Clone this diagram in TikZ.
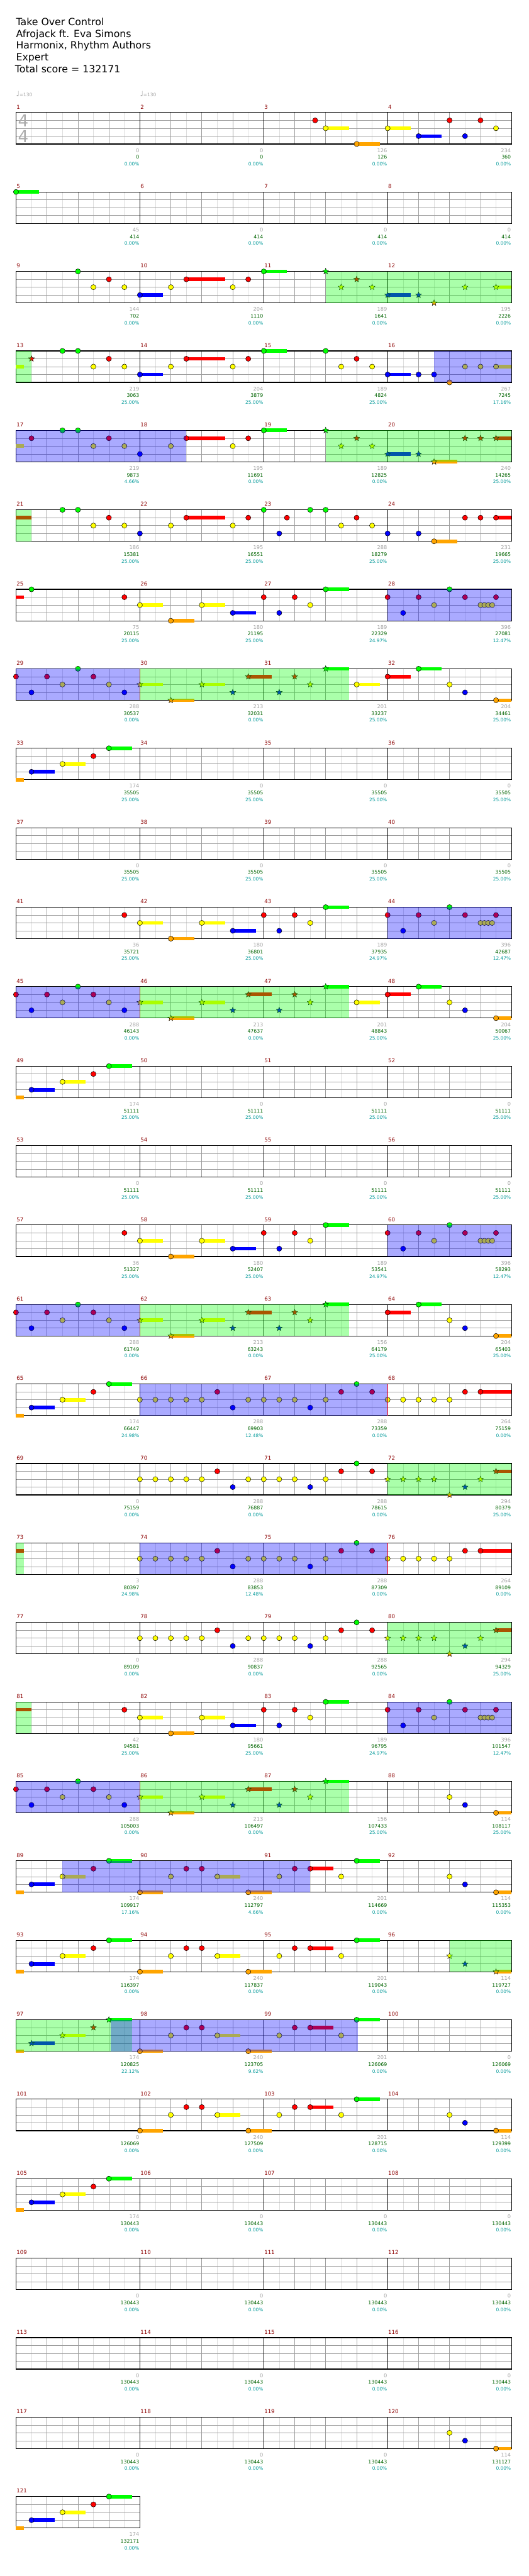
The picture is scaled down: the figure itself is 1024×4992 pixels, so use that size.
\documentclass[tikz,border=0pt]{standalone}
\usepackage{fontspec}
\setmainfont{DejaVu Sans}
\usetikzlibrary{shapes.geometric}

\definecolor{cG}{RGB}{0,255,0}
\definecolor{cR}{RGB}{255,0,0}
\definecolor{cY}{RGB}{255,255,0}
\definecolor{cB}{RGB}{0,0,255}
\definecolor{cO}{RGB}{255,165,0}
\definecolor{measred}{RGB}{140,0,0}
\definecolor{cntgray}{RGB}{160,160,160}
\definecolor{sumgreen}{RGB}{0,100,0}
\definecolor{pctteal}{RGB}{0,153,153}

% lane index of each fret colour
\def\lG{0}\def\lR{1}\def\lY{2}\def\lB{3}\def\lO{4}

\tikzset{
  eighth/.style={draw=black!13, line width=0.6pt},
  beat/.style={draw=black!38, line width=0.8pt},
  lane/.style={draw=black!38, line width=0.8pt},
  bar/.style={draw=black, line width=0.8pt},
  frame/.style={draw=black, line width=1.4pt},
  gem/.style={draw=black, line width=0.6pt},
  spnote/.style={star, star points=5, star point ratio=2.3, minimum size=12pt,
    inner sep=0pt, draw=black, line width=0.5pt},
  spgreen/.style={fill=cG, fill opacity=0.333},
  spblue/.style={fill=cB, fill opacity=0.333},
  spedge/.style={draw=cR, line width=0.6pt},
  title/.style={font=\fontsize{19.2}{23}\selectfont, inner sep=0pt},
  measnum/.style={text=measred, font=\fontsize{10.5}{12}\selectfont, inner sep=0pt},
  notecnt/.style={text=cntgray, font=\fontsize{10}{12}\selectfont, inner sep=0pt},
  scoresum/.style={text=sumgreen, font=\fontsize{9.5}{12}\selectfont, inner sep=0pt},
  pct/.style={text=pctteal, font=\fontsize{9}{12}\selectfont, inner sep=0pt},
  tsig/.style={text=black!33, font=\fontsize{32}{32}\selectfont, inner sep=0pt},
  tempo/.style={text=cntgray, inner sep=0pt}
}

% row, beat, lane
\newcommand{\gemnote}[3]{\filldraw[gem, fill=c#3] ({31+60*(#2)},{218+154*(#1)+15.25*\csname l#3\endcsname}) circle[radius=5pt];}
\newcommand{\stargem}[3]{\node[spnote, fill=c#3] at ({31+60*(#2)},{218+154*(#1)+15.25*\csname l#3\endcsname}) {};}
% row, from, to, lane
\newcommand{\holdbar}[4]{\fill[c#4] ({31+60*(#2)},{214.5+154*(#1)+15.25*\csname l#4\endcsname}) rectangle ({31+60*(#3)},{221.5+154*(#1)+15.25*\csname l#4\endcsname});}
% star power phrase / activation
\newcommand{\spphrase}[3]{\fill[spgreen] ({31+60*(#2)},{218+154*(#1)}) rectangle ({31+60*(#3)},{279+154*(#1)});}
\newcommand{\spactive}[3]{\fill[spblue] ({31+60*(#2)},{218+154*(#1)}) rectangle ({31+60*(#3)},{279+154*(#1)});}
\newcommand{\spstop}[2]{\draw[spedge] ({31+60*(#2)},{218+154*(#1)}) -- ++(0,61);}

% row, number of measures
\newcommand{\lanestaff}[2]{%
  \pgfmathsetmacro\sy{218+154*#1}
  \pgfmathsetmacro\sw{240*#2}
  \foreach \xx in {30,90,...,\sw} {\draw[eighth] ({31+\xx},\sy) -- ++(0,61);}
  \foreach \xx in {60,120,...,\sw} {\draw[beat] ({31+\xx},\sy) -- ++(0,61);}
  \foreach \k in {1,2,3} {\draw[lane] (31,{\sy+15.25*\k}) -- ++(\sw,0);}
  \foreach \k in {1,...,#2} {\draw[bar] ({31+240*\k},\sy) -- ++(0,61);}
  \draw[frame] (31,\sy) rectangle ++(\sw,61);}

% repeated phrases
\newcommand{\riffintro}[1]{\foreach \pos/\lan in {2/G,2.5/Y,3/R,3.5/Y,4/B,5/Y,5.5/R,7/Y,7.5/R,8/G} {\gemnote{#1}{\pos}{\lan}}}
\newcommand{\riffclimb}[1]{%
  \foreach \sa/\se/\lan in {0/0.25/O,0.5/1.25/B,1.5/2.25/Y,3/3.75/G} {\holdbar{#1}{\sa}{\se}{\lan}}
  \foreach \pos/\lan in {0.5/B,1.5/Y,2.5/R,3/G} {\gemnote{#1}{\pos}{\lan}}}
\newcommand{\riffverse}[1]{%
  \foreach \sa/\se/\lan in {4/4.75/Y,5/5.75/O,6/6.75/Y,7/7.75/B,10/10.75/G} {\holdbar{#1}{\sa}{\se}{\lan}}
  \foreach \pos/\lan in {3.5/R,4/Y,5/O,6/Y,7/B,8/R,8.5/B,9/R,9.5/Y,10/G,12/R,12.5/B,13/R,13.5/Y,14/G,14.5/R,15/Y,15.125/Y,15.25/Y,15.375/Y,15.5/R} {\gemnote{#1}{\pos}{\lan}}
  \spactive{#1}{12}{16}}
\newcommand{\riffsolo}[1]{%
  \foreach \sa/\se/\lan in {4/4.75/Y,5/5.75/O,6/6.75/Y,7.5/8.25/R,10/10.75/G} {\holdbar{#1}{\sa}{\se}{\lan}}
  \foreach \pos/\lan in {0/R,0.5/B,1/R,1.5/Y,2/G,2.5/R,3/Y,3.5/B} {\gemnote{#1}{\pos}{\lan}}
  \foreach \pos/\lan in {4/Y,5/O,6/Y,7/B,7.5/R,8.5/B,9/R,9.5/Y,10/G} {\stargem{#1}{\pos}{\lan}}
  \spactive{#1}{0}{4}\spstop{#1}{4}\spphrase{#1}{4}{10.75}}
\newcommand{\riffrun}[1]{\foreach \pos/\lan in {4/Y,4.5/Y,5/Y,5.5/Y,6/Y,6.5/R,7/B,7.5/Y,8/Y,8.5/Y,9/Y,9.5/B,10/Y,10.5/R,11/G,11.5/R} {\gemnote{#1}{\pos}{\lan}}}
\newcommand{\riffchorus}[1]{%
  \holdbar{#1}{15}{16}{R}
  \riffrun{#1}
  \foreach \pos/\lan in {12/Y,12.5/Y,13/Y,13.5/Y,14/Y,14.5/R,15/R} {\gemnote{#1}{\pos}{\lan}}
  \spactive{#1}{4}{12}\spstop{#1}{12}}
\newcommand{\riffstars}[1]{%
  \holdbar{#1}{15.5}{16}{R}
  \riffrun{#1}
  \foreach \pos/\lan in {12/Y,12.5/Y,13/Y,13.5/Y,14/O,14.5/B,15/Y,15.5/R} {\stargem{#1}{\pos}{\lan}}
  \spphrase{#1}{12}{16}}
\newcommand{\riffbridge}[1]{%
  \foreach \sa/\se/\lan in {4/4.75/O,6.5/7.25/Y,7.5/8.25/O,9.5/10.25/R,11/11.75/G} {\holdbar{#1}{\sa}{\se}{\lan}}
  \foreach \pos/\lan in {4/O,5/Y,5.5/R,6/R,6.5/Y,7.5/O,8.5/Y,9/R,9.5/R,10.5/Y,11/G} {\gemnote{#1}{\pos}{\lan}}}
\newcommand{\riffoutro}[1]{%
  \holdbar{#1}{15.5}{16}{O}
  \foreach \pos/\lan in {14/Y,14.5/B,15.5/O} {\gemnote{#1}{\pos}{\lan}}}

\begin{document}
\begin{tikzpicture}[x=1pt, y=-1pt]
\useasboundingbox (0,0) rectangle (1024,4992);
\fill[white] (0,0) rectangle (1024,4992);

% header
\node[title, anchor=base west] (song) at (31,49) {Take Over Control};
\node[title, anchor=base west] (artist) at (31,72) {Afrojack ft. Eva Simons};
\node[title, anchor=base west] (charter) at (31,95) {Harmonix, Rhythm Authors};
\node[title, anchor=base west] (level) at (31,118) {Expert};
\node[title, anchor=base west] (total) at (29,141) {Total score = 132171};
\node[tempo, anchor=west] (bpm1) at (31,182) {{\fontsize{14}{14}\selectfont ♩}{\fontsize{9}{10}\selectfont =130}};
\node[tempo, anchor=west] (bpm2) at (271,182) {{\fontsize{14}{14}\selectfont ♩}{\fontsize{9}{10}\selectfont =130}};

% staves
\foreach \r in {0,...,29} {\lanestaff{\r}{4}}
\lanestaff{30}{1}
\node[tsig] (tsigtop) at (45,234) {4};
\node[tsig] (tsigbot) at (45,264) {4};

% measures 1-4
\foreach \sa/\se/\lan in {10/10.75/Y,11/11.75/O,12/12.75/Y,13/13.75/B} {\holdbar{0}{\sa}{\se}{\lan}}
\foreach \pos/\lan in {9.66/R,10/Y,11/O,12/Y,13/B,14/R,14.5/B,15/R,15.5/Y} {\gemnote{0}{\pos}{\lan}}

% measures 5-8
\holdbar{1}{0}{0.75}{G}
\gemnote{1}{0}{G}

% measures 9-12
\foreach \sa/\se/\lan in {4/4.75/B,5.5/6.75/R,8/8.75/G,12/12.75/B,15.5/16/Y} {\holdbar{2}{\sa}{\se}{\lan}}
\riffintro{2}
\foreach \pos/\lan in {10/G,10.5/Y,11/R,11.5/Y,12/B,13/B,13.5/O,14.5/Y,15.5/Y} {\stargem{2}{\pos}{\lan}}
\spphrase{2}{10}{16}

% measures 13-16
\foreach \sa/\se/\lan in {0/0.25/Y,4/4.75/B,5.5/6.75/R,8/8.75/G,12/12.75/B,15.5/16/Y} {\holdbar{3}{\sa}{\se}{\lan}}
\stargem{3}{0.5}{R}
\gemnote{3}{1.5}{G}
\riffintro{3}
\foreach \pos/\lan in {10/G,10.5/Y,11/R,11.5/Y,12/B,13/B,13.5/B,14/O,14.5/Y,15/Y,15.5/Y} {\gemnote{3}{\pos}{\lan}}
\spphrase{3}{0}{0.5}
\spactive{3}{13.5}{16}

% measures 17-20
\foreach \sa/\se/\lan in {0/0.25/Y,5.5/6.75/R,8/8.75/G,12/12.75/B,13.5/14.25/O,15.5/16/R} {\holdbar{4}{\sa}{\se}{\lan}}
\gemnote{4}{0.5}{R}
\gemnote{4}{1.5}{G}
\riffintro{4}
\foreach \pos/\lan in {10/G,10.5/Y,11/R,11.5/Y,12/B,13/B,13.5/O,14.5/R,15/R,15.5/R} {\stargem{4}{\pos}{\lan}}
\spactive{4}{0}{5.5}
\spphrase{4}{10}{16}

% measures 21-24
\foreach \sa/\se/\lan in {0/0.5/R,5.5/6.75/R,13.5/14.25/O,15.5/16/R} {\holdbar{5}{\sa}{\se}{\lan}}
\gemnote{5}{1.5}{G}
\riffintro{5}
\foreach \pos/\lan in {8.5/B,8.75/R,9.5/G,10/G,10.5/Y,11/R,11.5/Y,12/B,13/B,13.5/O,14.5/R,15/R,15.5/R} {\gemnote{5}{\pos}{\lan}}
\spphrase{5}{0}{0.5}

% measures 25-28
\holdbar{6}{0}{0.25}{R}
\gemnote{6}{0.5}{G}
\riffverse{6}

% measures 29-32
\riffsolo{7}
\foreach \sa/\se/\lan in {11/11.75/Y,12/12.75/R,13/13.75/G} {\holdbar{7}{\sa}{\se}{\lan}}
\foreach \pos/\lan in {11/Y,12/R,13/G} {\gemnote{7}{\pos}{\lan}}
\riffoutro{7}

% measures 33-44
\riffclimb{8}
\riffverse{10}

% measures 45-60
\riffsolo{11}
\foreach \sa/\se/\lan in {11/11.75/Y,12/12.75/R,13/13.75/G} {\holdbar{11}{\sa}{\se}{\lan}}
\foreach \pos/\lan in {11/Y,12/R,13/G} {\gemnote{11}{\pos}{\lan}}
\riffoutro{11}
\riffclimb{12}
\riffverse{14}

% measures 61-64
\riffsolo{15}
\foreach \sa/\se/\lan in {12/12.75/R,13/13.75/G} {\holdbar{15}{\sa}{\se}{\lan}}
\foreach \pos/\lan in {12/R,13/G} {\gemnote{15}{\pos}{\lan}}
\riffoutro{15}

% measures 65-80
\riffclimb{16}
\riffchorus{16}
\riffstars{17}
\holdbar{18}{0}{0.25}{R}
\riffchorus{18}
\spphrase{18}{0}{0.25}
\riffstars{19}

% measures 81-88
\holdbar{20}{0}{0.5}{R}
\riffverse{20}
\spphrase{20}{0}{0.5}
\riffsolo{21}
\riffoutro{21}

% measures 89-96
\riffclimb{22}
\riffbridge{22}
\riffoutro{22}
\spactive{22}{1.5}{9.5}
\riffclimb{23}
\riffbridge{23}
\holdbar{23}{15.5}{16}{O}
\foreach \pos/\lan in {14/Y,14.5/B,15.5/O} {\stargem{23}{\pos}{\lan}}
\spphrase{23}{14}{16}

% measures 97-104
\foreach \sa/\se/\lan in {0/0.25/O,0.5/1.25/B,1.5/2.25/Y,3/3.75/G} {\holdbar{24}{\sa}{\se}{\lan}}
\foreach \pos/\lan in {0.5/B,1.5/Y,2.5/R,3/G} {\stargem{24}{\pos}{\lan}}
\riffbridge{24}
\spphrase{24}{0}{3.75}
\spactive{24}{3.06}{11.05}
\riffbridge{25}
\riffoutro{25}

% measures 105-121
\riffclimb{26}
\riffoutro{29}
\riffclimb{30}

% measure numbers and running totals
\foreach \m/\na/\nb/\nc in {1/0/0/0.00, 2/0/0/0.00, 3/126/126/0.00, 4/234/360/0.00,
  5/45/414/0.00, 6/0/414/0.00, 7/0/414/0.00, 8/0/414/0.00,
  9/144/702/0.00, 10/204/1110/0.00, 11/189/1641/0.00, 12/195/2226/0.00,
  13/219/3063/25.00, 14/204/3879/25.00, 15/189/4824/25.00, 16/267/7245/17.16,
  17/219/9873/4.66, 18/195/11691/0.00, 19/189/12825/0.00, 20/240/14265/25.00,
  21/186/15381/25.00, 22/195/16551/25.00, 23/288/18279/25.00, 24/231/19665/25.00,
  25/75/20115/25.00, 26/180/21195/25.00, 27/189/22329/24.97, 28/396/27081/12.47,
  29/288/30537/0.00, 30/213/32031/0.00, 31/201/33237/25.00, 32/204/34461/25.00,
  33/174/35505/25.00, 34/0/35505/25.00, 35/0/35505/25.00, 36/0/35505/25.00,
  37/0/35505/25.00, 38/0/35505/25.00, 39/0/35505/25.00, 40/0/35505/25.00,
  41/36/35721/25.00, 42/180/36801/25.00, 43/189/37935/24.97, 44/396/42687/12.47,
  45/288/46143/0.00, 46/213/47637/0.00, 47/201/48843/25.00, 48/204/50067/25.00,
  49/174/51111/25.00, 50/0/51111/25.00, 51/0/51111/25.00, 52/0/51111/25.00,
  53/0/51111/25.00, 54/0/51111/25.00, 55/0/51111/25.00, 56/0/51111/25.00,
  57/36/51327/25.00, 58/180/52407/25.00, 59/189/53541/24.97, 60/396/58293/12.47,
  61/288/61749/0.00, 62/213/63243/0.00, 63/156/64179/25.00, 64/204/65403/25.00,
  65/174/66447/24.98, 66/288/69903/12.48, 67/288/73359/0.00, 68/264/75159/0.00,
  69/0/75159/0.00, 70/288/76887/0.00, 71/288/78615/0.00, 72/294/80379/25.00,
  73/3/80397/24.98, 74/288/83853/12.48, 75/288/87309/0.00, 76/264/89109/0.00,
  77/0/89109/0.00, 78/288/90837/0.00, 79/288/92565/0.00, 80/294/94329/25.00,
  81/42/94581/25.00, 82/180/95661/25.00, 83/189/96795/24.97, 84/396/101547/12.47,
  85/288/105003/0.00, 86/213/106497/0.00, 87/156/107433/25.00, 88/114/108117/25.00,
  89/174/109917/17.16, 90/240/112797/4.66, 91/201/114669/0.00, 92/114/115353/0.00,
  93/174/116397/0.00, 94/240/117837/0.00, 95/201/119043/0.00, 96/114/119727/0.00,
  97/174/120825/22.12, 98/240/123705/9.62, 99/201/126069/0.00, 100/0/126069/0.00,
  101/0/126069/0.00, 102/240/127509/0.00, 103/201/128715/0.00, 104/114/129399/0.00,
  105/174/130443/0.00, 106/0/130443/0.00, 107/0/130443/0.00, 108/0/130443/0.00,
  109/0/130443/0.00, 110/0/130443/0.00, 111/0/130443/0.00, 112/0/130443/0.00,
  113/0/130443/0.00, 114/0/130443/0.00, 115/0/130443/0.00, 116/0/130443/0.00,
  117/0/130443/0.00, 118/0/130443/0.00, 119/0/130443/0.00, 120/114/131127/0.00,
  121/174/132171/0.00} {
  \pgfmathtruncatemacro\rr{(\m-1)/4}
  \pgfmathtruncatemacro\ii{\m-1-4*\rr}
  \node[measnum, anchor=base west] (m\m) at ({32+240*\ii},{211+154*\rr}) {\m};
  \node[notecnt, anchor=base east] (n\m) at ({270+240*\ii},{295+154*\rr}) {\na};
  \node[scoresum, anchor=base east] (s\m) at ({270+240*\ii},{308+154*\rr}) {\nb};
  \node[pct, anchor=base east] (p\m) at ({270+240*\ii},{321+154*\rr}) {\nc\%};
}
\end{tikzpicture}
\end{document}
